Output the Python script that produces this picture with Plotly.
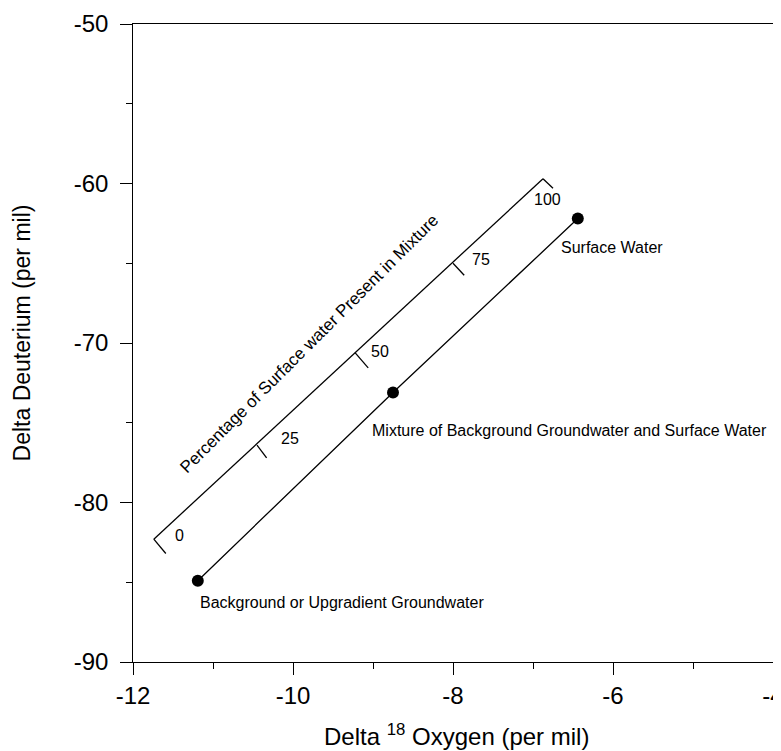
import plotly.graph_objects as go

# Mixing line points (Delta 18O, Delta D)
point_names = ["Background or Upgradient Groundwater",
               "Mixture of Background Groundwater and Surface Water",
               "Surface Water"]
point_x = [-11.19, -8.75, -6.44]
point_y = [-84.9, -73.1, -62.2]

# Percentage scale (drawn parallel to mixing line)
scale_pct = [0, 25, 50, 75, 100]
scale_line_x = [-11.74, -6.875]
scale_line_y = [-82.3, -59.7]
# tick marks: start (on line) and end
tick_x0 = [-11.74, -10.45, -9.225, -8.0, -6.875]
tick_y0 = [-82.3, -76.4, -70.6, -65.0, -59.7]
tick_x1 = [-11.59, -10.33, -9.06, -7.86, -6.75]
tick_y1 = [-83.2, -77.2, -71.56, -65.75, -60.3]
# tick label positions
tlab_x = [-11.425, -10.04, -8.91, -7.65, -6.825]
tlab_y = [-82.06, -76.0, -70.56, -64.75, -61.0]

# point label positions
lab_x = [-11.19, -9.04, -6.675]
lab_y = [-86.3, -75.5, -64.0]

# axis ticks
x_ticks = [-12, -10, -8, -6, -4]
x_ticktext = ["-12", "-10", "-8", "-6", "-4"]
y_ticks = [-90, -80, -70, -60, -50]
y_ticktext = ["-90 ", "-80 ", "-70 ", "-60 ", "-50 "]

FONT = "Arial, Liberation Sans, sans-serif"

fig = go.Figure()

# mixing line with points
fig.add_trace(go.Scatter(x=point_x, y=point_y, mode="lines+markers",
                         line=dict(color="black", width=1.3),
                         marker=dict(color="black", size=12),
                         showlegend=False, hoverinfo="skip"))

# scale line and tick marks
sx, sy = list(scale_line_x) + [None], list(scale_line_y) + [None]
for a, b, c, d in zip(tick_x0, tick_y0, tick_x1, tick_y1):
    sx += [a, c, None]
    sy += [b, d, None]
fig.add_trace(go.Scatter(x=sx, y=sy, mode="lines",
                         line=dict(color="black", width=1.3),
                         showlegend=False, hoverinfo="skip"))

annotations = []
for p, x, y in zip(scale_pct, tlab_x, tlab_y):
    annotations.append(dict(x=x, y=y, text=str(p), showarrow=False,
                            xanchor="center", yanchor="middle",
                            font=dict(size=16, color="black", family=FONT)))
for n, x, y in zip(point_names, lab_x, lab_y):
    annotations.append(dict(x=x, y=y, text=n, showarrow=False,
                            xanchor="left", yanchor="middle",
                            font=dict(size=16, color="black", family=FONT)))
annotations.append(dict(x=-9.79, y=-70.06,
                        text="Percentage of Surface water Present in Mixture",
                        showarrow=False, textangle=-45,
                        xanchor="center", yanchor="middle",
                        font=dict(size=17, color="black", family=FONT)))
# axis titles
annotations.append(dict(xref="paper", yref="paper", x=-0.1734, y=0.515,
                        text="Delta Deuterium (per mil)", textangle=-90,
                        showarrow=False, xanchor="center", yanchor="middle",
                        font=dict(size=23, color="black", family=FONT)))
annotations.append(dict(xref="paper", yref="paper", x=0.506, y=-0.114,
                        text="Delta <sup>18</sup> Oxygen (per mil)",
                        showarrow=False, xanchor="center", yanchor="middle",
                        font=dict(size=24, color="black", family=FONT)))

fig.update_layout(
    width=773, height=743,
    margin=dict(l=125, r=8, t=16, b=89, autoexpand=False),
    paper_bgcolor="white", plot_bgcolor="white",
    font=dict(family=FONT, color="black"),
    annotations=annotations,
    xaxis=dict(range=[-12, -4], tickmode="array", tickvals=x_ticks, ticktext=x_ticktext,
               ticks="outside", ticklen=12, tickwidth=1.3, tickcolor="black",
               ticklabeloverflow="allow", automargin=False,
               minor=dict(dtick=1, ticks="outside", ticklen=6, tickcolor="black", tickwidth=1),
               showline=True, linecolor="black", linewidth=1.3, mirror=True,
               showgrid=False, zeroline=False,
               tickfont=dict(size=24, family=FONT)),
    yaxis=dict(range=[-90, -50], tickmode="array", tickvals=y_ticks, ticktext=y_ticktext,
               ticks="outside", ticklen=12, tickwidth=1.3, tickcolor="black",
               ticklabeloverflow="allow", automargin=False,
               minor=dict(dtick=5, ticks="outside", ticklen=6, tickcolor="black", tickwidth=1),
               showline=True, linecolor="black", linewidth=1.3, mirror=True,
               showgrid=False, zeroline=False,
               tickfont=dict(size=24, family=FONT)),
)

fig.write_html("out.html")
